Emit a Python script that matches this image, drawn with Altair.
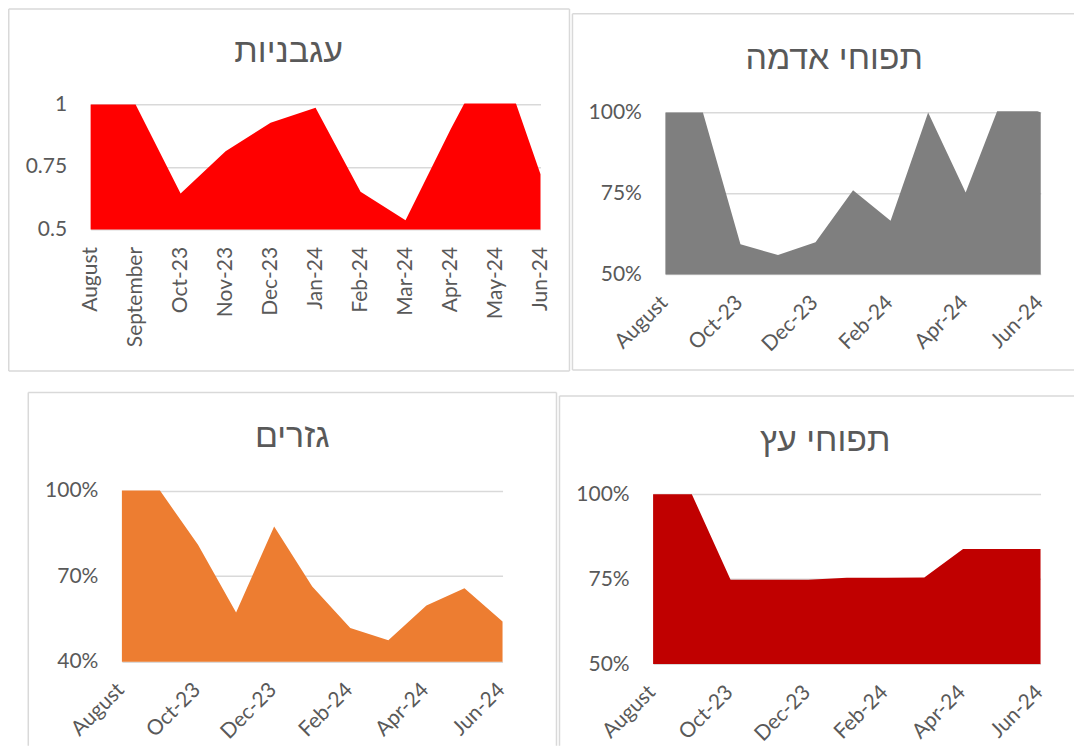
import altair as alt
import pandas as pd

months = ["August", "September", "Oct-23", "Nov-23", "Dec-23", "Jan-24",
          "Feb-24", "Mar-24", "Apr-24", "May-24", "Jun-24"]
tomatoes = [1.0, 1.0, 0.644, 0.813, 0.927, 0.987, 0.651, 0.537, 0.90, 1.24, 0.721]
potatoes = [1.0, 1.0, 0.593, 0.56, 0.599, 0.76, 0.666, 1.0, 0.753, 1.053, 1.0]
carrots = [1.0, 1.0, 0.81, 0.573, 0.874, 0.664, 0.518, 0.475, 0.597, 0.658, 0.541]
apples = [1.0, 1.0, 0.748, 0.748, 0.748, 0.754, 0.754, 0.755, 0.839, 0.839, 0.839]

titles = ["עגבניות", "תפוחי אדמה", "גזרים", "תפוחי עץ"]
colors = ["#FF0000", "#7F7F7F", "#ED7D31", "#C00000"]
ticks_tom = [0.5, 0.75, 1.0]
ticks_pot = [0.5, 0.75, 1.0]
ticks_car = [0.4, 0.7, 1.0]
ticks_app = [0.5, 0.75, 1.0]
every_other = ["August", "Oct-23", "Dec-23", "Feb-24", "Apr-24", "Jun-24"]

TEXT = "#595959"
GRID = "#D9D9D9"
LABEL_FONT = "Lato"
TITLE_FONT = "Liberation Sans"
W, H = 1067, 738          # whole drawing area (page minus 8px margin)
M = 8                      # page margin
one = pd.DataFrame({"k": [0]})


def panel(values, title, color, yticks, yfmt, xvals, xangle, xpad, xoff,
          plot, segs, tpos):
    # plot = plot rectangle in page pixels (left, top, right, bottom)
    px0, py0, px1, py1 = [v - M for v in plot]
    df = pd.DataFrame({"month": months, "value": values})
    x = alt.X("month:O", sort=months, title=None,
              scale=alt.Scale(domain=months, range=[px0, px1], padding=0),
              axis=alt.Axis(orient="bottom", offset=-(H - py1),
                            values=xvals, labelAngle=xangle, labelPadding=xpad,
                            labelOffset=xoff, domain=False, ticks=False, grid=False,
                            labelFont=LABEL_FONT, labelFontSize=21,
                            labelColor=TEXT, labelOverlap=False))
    y = alt.Y("value:Q", title=None,
              scale=alt.Scale(domain=[yticks[0], yticks[-1]], range=[py1, py0],
                              zero=False, nice=False),
              axis=alt.Axis(orient="left", offset=-px0,
                            values=yticks, format=yfmt, labelPadding=24,
                            domain=False, ticks=False, grid=True,
                            gridColor=GRID, gridWidth=1.5,
                            labelFont=LABEL_FONT, labelFontSize=21,
                            labelColor=TEXT))
    area = alt.Chart(df).mark_area(color=color, opacity=1,
                                   interpolate="linear").encode(
        x=x, y=y, y2=alt.Y2(datum=yticks[0]))
    layers = [area]
    top = yticks[-1]
    if max(values) > top:
        # white cover that trims the part of the area above the plot top
        layers.append(alt.Chart(one).mark_rect(color="white", opacity=1).encode(
            x=alt.value(px0), x2=alt.value(px1 + 1),
            y=alt.Y(datum=top + 0.004), y2=alt.Y2(datum=max(values) + 0.02)))
    for (sx0, sy0, sx1, sy1) in segs:
        layers.append(alt.Chart(one).mark_rule(color=GRID, strokeWidth=1.5).encode(
            x=alt.value(sx0 - M), x2=alt.value(sx1 - M),
            y=alt.value(sy0 - M), y2=alt.value(sy1 - M)))
    layers.append(alt.Chart(one).mark_text(
        text=title, font=TITLE_FONT, fontSize=34, color=TEXT,
        align="center", baseline="alphabetic").encode(
        x=alt.value(tpos[0] - M), y=alt.value(tpos[1] - M)))
    return alt.layer(*layers)


R_EDGE = M + W
B_EDGE = M + H
p1 = panel(tomatoes, titles[0], colors[0], ticks_tom, ".2~f", months, -90, 17, 0,
           plot=(90.7, 104.3, 541, 229.3),
           segs=[(8.75, 8.75, 570, 8.75), (8.75, 8.75, 8.75, 371),
                 (570, 8.75, 570, 371), (8.75, 371, 570, 371)],
           tpos=(289, 62))
p2 = panel(potatoes, titles[1], colors[1], ticks_pot, ".0%", every_other, -45, 17, -9,
           plot=(666, 112.3, 1041.7, 274.3),
           segs=[(573, 13.3, R_EDGE, 13.3), (573, 13.3, 573, 370),
                 (573, 370, R_EDGE, 370)],
           tpos=(835, 68.3))
p3 = panel(carrots, titles[2], colors[2], ticks_car, ".0%", every_other, -45, 17, -9,
           plot=(122, 490.7, 503, 662),
           segs=[(28.3, 392.5, 557, 392.5), (28.3, 392.5, 28.3, B_EDGE),
                 (557, 392.5, 557, B_EDGE)],
           tpos=(292.5, 447))
p4 = panel(apples, titles[3], colors[3], ticks_app, ".0%", every_other, -45, 17, -9,
           plot=(653.7, 494.3, 1041.5, 664.3),
           segs=[(560, 396, R_EDGE, 396), (560, 396, 560, B_EDGE)],
           tpos=(826, 451.5))

chart = alt.layer(p1, p2, p3, p4).resolve_scale(
    x="independent", y="independent"
).resolve_axis(
    x="independent", y="independent"
).properties(
    width=W, height=H, padding=0, background="white"
).configure_view(strokeWidth=0)

chart.save("out.html", embed_options={"renderer": "svg", "actions": False})
